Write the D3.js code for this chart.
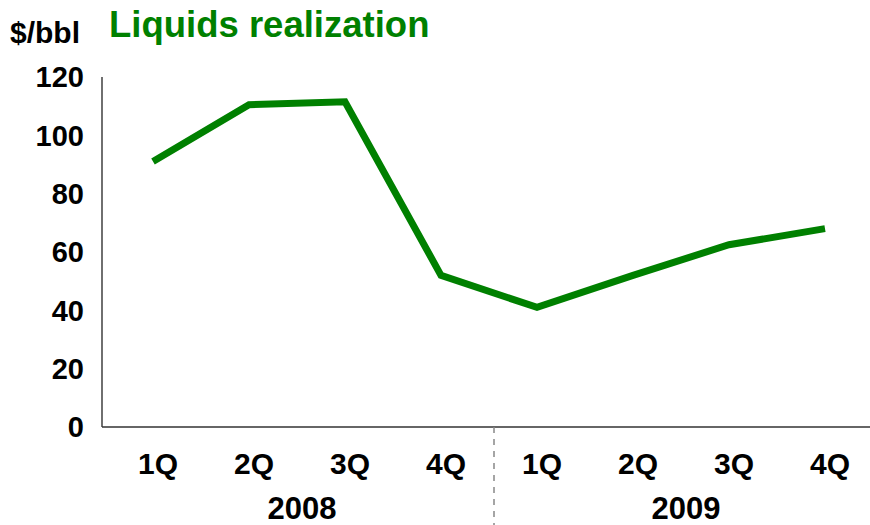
<!DOCTYPE html>
<html>
  <head>
    <title>Liquids realization</title>
    <style>
      body, html{
        margin: 0;
        width: 100%;
        height: 100%;
        background: #fff;
      }
      svg text{
        font-family: "Liberation Sans", Arial, sans-serif;
        font-weight: bold;
      }
    </style>
  </head>
  <body>
    <svg id="chart" width="870" height="525"></svg>
    <script src="https://cdn.jsdelivr.net/npm/d3@7"></script>
    <script>

var quarters = ['1Q', '2Q', '3Q', '4Q', '1Q', '2Q', '3Q', '4Q']
var years = ['2008', '2009']
var realization = [91, 110.5, 111.5, 52, 41, 52, 62.5, 68]
var yTicks = [0, 20, 40, 60, 80, 100, 120]

var W = 870, H = 525
var plotL = 102, plotR = 870, plotT = 77, plotB = 427

var svg = d3.select('#chart')
var idx = d3.range(quarters.length)

var x = d3.scaleBand().domain(idx).range([plotL, plotR])
var y = d3.scaleLinear().domain([0, 120]).range([plotB, plotT])

// y tick labels
svg.append('g').selectAll('text').data(yTicks).enter().append('text')
  .attr('x', 84)
  .attr('y', function(d){ return y(d) })
  .attr('dy', '0.36em')
  .attr('text-anchor', 'end')
  .style('font-size', '29px')
  .text(function(d){ return d })

svg.append('text')
  .attr('x', 10).attr('y', 43)
  .style('font-size', '30px')
  .text('$/bbl')

svg.append('text')
  .attr('x', 109).attr('y', 37)
  .style('font-size', '36.5px')
  .attr('fill', '#008000')
  .text('Liquids realization')

// axes lines
svg.append('line')
  .attr('x1', plotL).attr('x2', plotL).attr('y1', plotT).attr('y2', plotB)
  .attr('stroke', '#222').attr('stroke-width', 1.3)
svg.append('line')
  .attr('x1', plotL).attr('x2', plotR).attr('y1', plotB).attr('y2', plotB)
  .attr('stroke', '#333').attr('stroke-width', 1.3)

// quarter labels
svg.append('g').selectAll('text').data(idx).enter().append('text')
  .attr('x', function(d){ return x(d) + x.bandwidth() / 2 + 8 })
  .attr('y', 474)
  .attr('text-anchor', 'middle')
  .style('font-size', '30px')
  .text(function(d){ return quarters[d] })

// year labels
svg.append('g').selectAll('text').data(years).enter().append('text')
  .attr('x', function(d, i){ return x(i * 4) + 2 * x.bandwidth() + 8 })
  .attr('y', 519)
  .attr('text-anchor', 'middle')
  .style('font-size', '31px')
  .text(function(d){ return d })

// year divider
svg.append('line')
  .attr('x1', x(4) + 8).attr('x2', x(4) + 8)
  .attr('y1', plotB).attr('y2', H)
  .attr('stroke', '#888').attr('stroke-width', 1.5)
  .attr('stroke-dasharray', '6,6')

var line = d3.line()
  .x(function(d, i){ return x(i) + x.bandwidth() / 2 + 3 })
  .y(function(d){ return y(d) })

svg.append('path')
  .datum(realization)
  .attr('d', line)
  .attr('fill', 'none')
  .attr('stroke', '#008000')
  .attr('stroke-width', 7)
  .attr('stroke-linejoin', 'miter')
    </script>
  </body>
</html>
